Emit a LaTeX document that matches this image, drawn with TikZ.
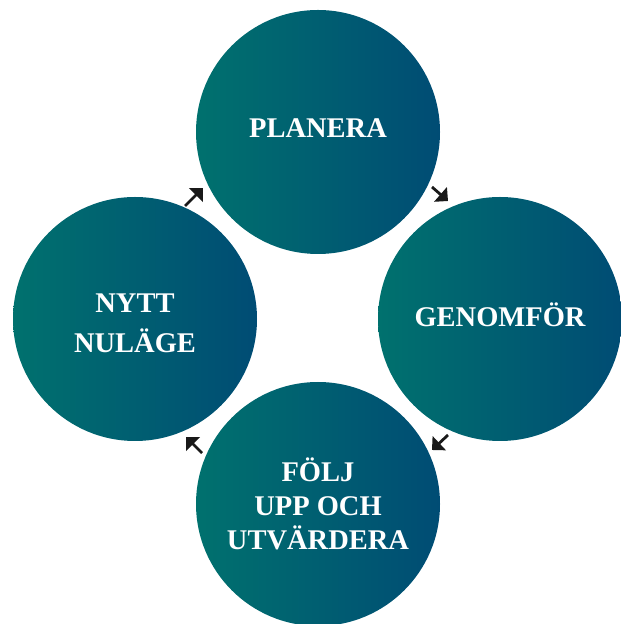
\documentclass[tikz,border=0pt]{standalone}
\usepackage{fontspec}
\setmainfont{Liberation Serif}
\usetikzlibrary{arrows.meta}
\definecolor{tealL}{RGB}{0,113,110}
\definecolor{blueR}{RGB}{0,76,116}
\tikzset{
  stage/.style={circle, minimum size=244pt, inner sep=0pt, left color=tealL, right color=blueR, draw=none,
    text=white, align=center, font=\fontsize{28.5}{34.3}\selectfont\bfseries},
  flow/.style={line width=2.8pt, black!90, -{Triangle[length=10pt,width=19pt]}}
}
\begin{document}
\begin{tikzpicture}[x=1pt,y=1pt]
\useasboundingbox (0,0) rectangle (621,624);
\clip (0,0) rectangle (621,624);
\node[stage, text depth=8pt] (plan) at (318,492) {PLANERA};
\node[stage, text depth=8pt] (gen) at (500,305) {GENOMFÖR};
\node[stage] (folj) at (318,120) {FÖLJ\\UPP OCH\\UTVÄRDERA};
\node[stage] (nytt) at (135,305) {\raisebox{-13pt}[0pt][0pt]{\begin{tabular}{@{}c@{}}NYTT\\[6pt]NULÄGE\end{tabular}}};
\coordinate (a1s) at ([shift={(114,-55)}]plan.center);
\coordinate (a1e) at ([shift={(130,-69)}]plan.center);
\coordinate (a2s) at ([shift={(-52,-116)}]gen.center);
\coordinate (a2e) at ([shift={(-68,-131)}]gen.center);
\coordinate (a3s) at ([shift={(-116,51)}]folj.center);
\coordinate (a3e) at ([shift={(-132,67)}]folj.center);
\coordinate (a4s) at ([shift={(50,113)}]nytt.center);
\coordinate (a4e) at ([shift={(68,131)}]nytt.center);
\draw[flow] (a1s) -- (a1e);
\draw[flow] (a2s) -- (a2e);
\draw[flow] (a3s) -- (a3e);
\draw[flow] (a4s) -- (a4e);
\end{tikzpicture}
\end{document}
